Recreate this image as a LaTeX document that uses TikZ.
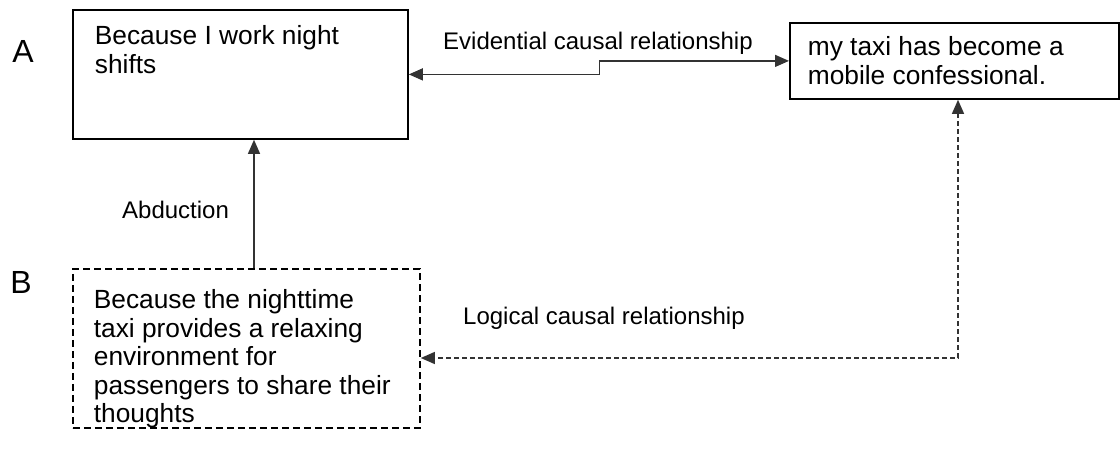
\documentclass[tikz,border=0pt]{standalone}
\usepackage{fontspec}
\setmainfont{Liberation Sans}
\usetikzlibrary{arrows.meta}
\newcommand{\boxtxt}[3]{\parbox[c][#2][t]{#1}{\fontsize{26.3pt}{28.5pt}\selectfont\raggedright #3}}
\begin{document}
\begin{tikzpicture}[x=1pt,y=-1pt,
  solidbox/.style={draw=black, line width=1.8pt, anchor=north west, inner ysep=14pt},
  dashbox/.style={draw=black, line width=1.8pt, dash pattern=on 7pt off 4pt, anchor=north west, inner ysep=21pt, inner xsep=21pt},
  conn/.style={draw=black!80, line width=1.3pt, {Triangle[length=14pt,width=12pt]}-{Triangle[length=14pt,width=12pt]}},
  oneway/.style={draw=black!80, line width=1.3pt, -{Triangle[length=14pt,width=12pt]}},
  dconn/.style={conn, dash pattern=on 5pt off 3pt},
  lbl/.style={font=\fontsize{24pt}{28pt}\selectfont, anchor=base west, inner sep=0pt},
  big/.style={font=\fontsize{32pt}{36pt}\selectfont, anchor=base, inner sep=0pt}]
\useasboundingbox (0,0) rectangle (1120,452);

\node[solidbox, inner xsep=22pt, inner ysep=16pt] (A) at (72,9) {\boxtxt{291pt}{97pt}{Because I work night\\ shifts}};
\node[solidbox, inner xsep=18pt] (R) at (789,22) {\boxtxt{293pt}{48pt}{my taxi has become a\\ mobile confessional.}};
\node[dashbox] (B) at (72,268) {\boxtxt{305pt}{117pt}{Because the nighttime\\ taxi provides a relaxing\\ environment for\\ passengers to share their\\ thoughts}};

\node[big] (la) at (23,63) {A};
\node[big] (lb) at (21,293) {B};

\node[lbl] (ev) at (443,50) {Evidential causal relationship};
\node[lbl] (ab) at (122,218) {Abduction};
\node[lbl] (lo) at (463,324) {Logical causal relationship};

\draw[conn] (A.east) -- ++(191,0) |- (R.west);
\draw[oneway] (B.north -| 254,0) -- (A.south -| 254,0);
\draw[dconn] (R.south -| 958,0) |- (B.east |- 0,358);
\end{tikzpicture}
\end{document}
